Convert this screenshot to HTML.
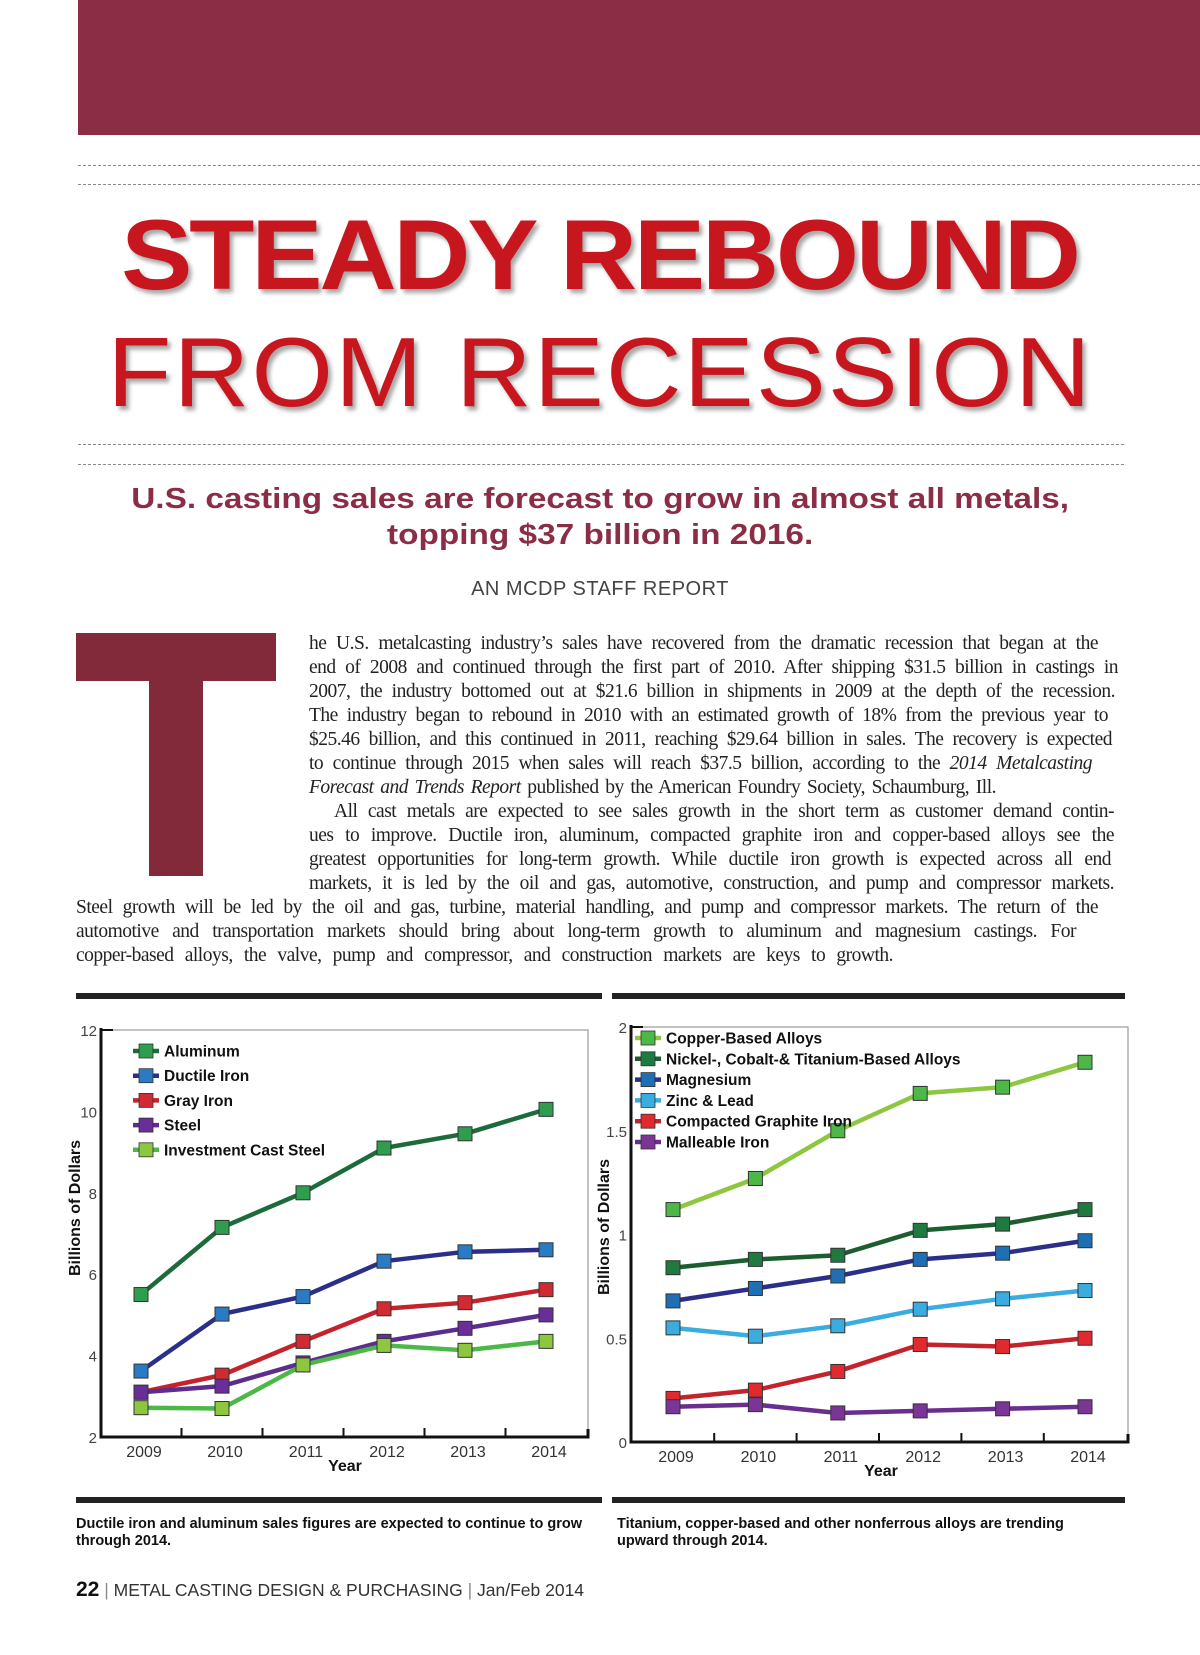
<!DOCTYPE html>
<html><head><meta charset="utf-8">
<style>
html,body{margin:0;padding:0;background:#fff;}
body{width:1200px;height:1655px;position:relative;overflow:hidden;font-family:"Liberation Sans",sans-serif;}
.abs{position:absolute;}
.dash{position:absolute;height:0;border-top:1.5px dashed #888;}
.t1{position:absolute;left:0;width:1200px;text-align:center;top:205px;font-size:99px;font-weight:bold;color:#c8161f;letter-spacing:-3px;line-height:100px;text-shadow:3px 4px 4px rgba(0,0,0,.35);transform:scaleX(1.08);transform-origin:607px 0;}
.t2{position:absolute;left:0;width:1200px;text-align:center;top:322px;font-size:98px;font-weight:normal;color:#c8161f;letter-spacing:2px;line-height:100px;text-shadow:3px 4px 4px rgba(0,0,0,.35);transform:scaleX(1.07);transform-origin:598px 0;}
.sub{position:absolute;left:0;width:1200px;text-align:center;font-size:29px;font-weight:bold;color:#8b2d45;line-height:36px;top:481px;transform:scaleX(1.15);transform-origin:599px 0;}
.by{position:absolute;left:0;width:1200px;text-align:center;top:578px;font-size:20px;color:#444;letter-spacing:0.5px;}
.ln{position:absolute;font-family:"Liberation Serif",serif;font-size:19.5px;color:#222;white-space:nowrap;text-align:justify;text-align-last:justify;letter-spacing:-0.5px;word-spacing:-1px;line-height:24px;}
.rule{position:absolute;height:6px;background:#222;}
.cap{position:absolute;font-size:14.5px;font-weight:bold;color:#111;line-height:17px;}
</style></head>
<body>
<div class="abs" style="left:78px;top:0;width:1122px;height:135px;background:#8b2d45;"></div>
<div class="dash" style="left:78px;top:165px;width:1122px;"></div>
<div class="dash" style="left:78px;top:184px;width:1122px;"></div>
<div class="t1">STEADY REBOUND</div>
<div class="t2">FROM RECESSION</div>
<div class="dash" style="left:78px;top:444px;width:1046px;"></div>
<div class="dash" style="left:78px;top:464px;width:1046px;"></div>
<div class="sub">U.S. casting sales are forecast to grow in almost all metals,<br>topping $37 billion in 2016.</div>
<div class="by">AN MCDP STAFF REPORT</div>

<div>
<div class="abs" style="left:76px;top:633px;width:200px;height:48px;background:#832a3a;"></div>
<div class="abs" style="left:149px;top:633px;width:54px;height:243px;background:#832a3a;"></div>
</div>

<div>
<div class="ln" style="left:309px;top:632px;width:789px;">he U.S. metalcasting industry’s sales have recovered from the dramatic recession that began at the</div>
<div class="ln" style="left:309px;top:656px;width:809px;">end of 2008 and continued through the first part of 2010. After shipping $31.5 billion in castings in</div>
<div class="ln" style="left:309px;top:680px;width:806px;">2007, the industry bottomed out at $21.6 billion in shipments in 2009 at the depth of the recession.</div>
<div class="ln" style="left:309px;top:704px;width:799px;">The industry began to rebound in 2010 with an estimated growth of 18% from the previous year to</div>
<div class="ln" style="left:309px;top:728px;width:803px;">$25.46 billion, and this continued in 2011, reaching $29.64 billion in sales. The recovery is expected</div>
<div class="ln" style="left:309px;top:752px;width:783px;">to continue through 2015 when sales will reach $37.5 billion, according to the <i>2014 Metalcasting</i></div>
<div class="ln" style="left:309px;top:776px;width:687px;"><i>Forecast and Trends Report</i> published by the American Foundry Society, Schaumburg, Ill.</div>
<div class="ln" style="left:334px;top:800px;width:780px;">All cast metals are expected to see sales growth in the short term as customer demand contin-</div>
<div class="ln" style="left:309px;top:824px;width:805px;">ues to improve. Ductile iron, aluminum, compacted graphite iron and copper-based alloys see the</div>
<div class="ln" style="left:309px;top:848px;width:802px;">greatest opportunities for long-term growth. While ductile iron growth is expected across all end</div>
<div class="ln" style="left:309px;top:872px;width:805px;">markets, it is led by the oil and gas, automotive, construction, and pump and compressor markets.</div>
<div class="ln" style="left:76px;top:896px;width:1022px;">Steel growth will be led by the oil and gas, turbine, material handling, and pump and compressor markets. The return of the</div>
<div class="ln" style="left:76px;top:920px;width:1000px;">automotive and transportation markets should bring about long-term growth to aluminum and magnesium castings. For</div>
<div class="ln" style="left:76px;top:944px;width:817px;">copper-based alloys, the valve, pump and compressor, and construction markets are keys to growth.</div>
</div>

<div class="rule" style="left:76px;top:993px;width:526px;"></div>
<div class="rule" style="left:612px;top:993px;width:513px;"></div>
<div class="rule" style="left:76px;top:1497px;width:526px;"></div>
<div class="rule" style="left:612px;top:1497px;width:513px;"></div>

<svg id="chart" class="abs" style="left:0;top:0;" width="1200" height="1655"></svg>

<div class="cap" style="left:76px;top:1516px;width:520px;">Ductile iron and aluminum sales figures are expected to continue to grow through 2014.</div>
<div class="cap" style="left:617px;top:1516px;width:490px;">Titanium, copper-based and other nonferrous alloys are trending upward through 2014.</div>
<div class="abs" style="left:76px;top:1578px;font-size:17.5px;color:#333;white-space:nowrap;"><b style="font-size:21px;color:#111;">22</b> <span style="color:#888">|</span> METAL CASTING DESIGN &amp; PURCHASING <span style="color:#888">|</span> Jan/Feb 2014</div>

<script>
const years = ["2009","2010","2011","2012","2013","2014"];
const leftNames = ["Aluminum","Ductile Iron","Gray Iron","Steel","Investment Cast Steel"];
const aluminum = [5.5, 7.15, 8.0, 9.1, 9.45, 10.05];
const ductileIron = [3.62, 5.02, 5.45, 6.32, 6.55, 6.6];
const grayIron = [3.1, 3.52, 4.35, 5.15, 5.3, 5.62];
const steel = [3.1, 3.25, 3.82, 4.35, 4.67, 5.0];
const investmentCastSteel = [2.72, 2.7, 3.77, 4.25, 4.13, 4.35];
const leftTicks = [2, 4, 6, 8, 10, 12];
const rightNames = ["Copper-Based Alloys","Nickel-, Cobalt-& Titanium-Based Alloys","Magnesium","Zinc & Lead","Compacted Graphite Iron","Malleable Iron"];
const copper = [1.12, 1.27, 1.5, 1.68, 1.71, 1.83];
const nickel = [0.84, 0.88, 0.9, 1.02, 1.05, 1.12];
const magnesium = [0.68, 0.74, 0.8, 0.88, 0.91, 0.97];
const zincLead = [0.55, 0.51, 0.56, 0.64, 0.69, 0.73];
const cgi = [0.21, 0.25, 0.34, 0.47, 0.46, 0.5];
const malleable = [0.17, 0.18, 0.14, 0.15, 0.16, 0.17];
const rightTicks = [0, 0.5, 1, 1.5, 2];
const rightTickLabels = ["0","0.5","1","1.5","2"];

const NS = "http://www.w3.org/2000/svg";
const svg = document.getElementById('chart');
function mk(tag, attrs, parent){
  const e = document.createElementNS(NS, tag);
  for (const k in attrs) e.setAttribute(k, attrs[k]);
  (parent||svg).appendChild(e);
  return e;
}

function drawChart(cfg){
  const g = mk('g', {});
  
  
  const xs = i => cfg.x0 + i * (cfg.x1 - cfg.x0) / (years.length - 1);
  const ys = v => cfg.yBot - (v - cfg.vMin) / (cfg.vMax - cfg.vMin) * (cfg.yBot - cfg.yTop);
  const frame = mk('rect', {x:cfg.L, y:cfg.yTop, width:cfg.R-cfg.L, height:cfg.yBot-cfg.yTop, fill:'none', stroke:'#999', 'stroke-width':1.2}, g);
  
  
  const ax = mk('path', {d:`M${cfg.L} ${cfg.yTop-2} L${cfg.L} ${cfg.yBot} L${cfg.R} ${cfg.yBot} L${cfg.R} ${cfg.yBot-8}`, fill:'none', stroke:'#111', 'stroke-width':3}, g);
  
  
  mk('line', {x1:cfg.L, y1:cfg.yTop, x2:cfg.L+12, y2:cfg.yTop, stroke:'#111','stroke-width':2}, g);
  for (let i = 0; i < years.length - 1; i++) {
    const tx = (xs(i) + xs(i+1)) / 2;
    const t = mk('line', {x1:tx, y1:cfg.yBot, x2:tx, y2:cfg.yBot-9, stroke:'#111', 'stroke-width':2}, g);
    
    
  }
  years.forEach((yr, i) => {
    const t = mk('text', {x:xs(i)+3, y:cfg.yBot+20, 'text-anchor':'middle', 'font-size':16, fill:'#333', 'font-family':'Liberation Sans, sans-serif'}, g);
    t.textContent = yr;
    
    
  });
  cfg.ticks.forEach((v, i) => {
    const t = mk('text', {x:cfg.L-4, y:ys(v)+6, 'text-anchor':'end', 'font-size':15, fill:'#444', 'font-family':'Liberation Sans, sans-serif'}, g);
    t.textContent = cfg.tickLabels[i];
    
    
  });
  const xt = mk('text', {x:cfg.xLabelX, y:cfg.yBot+34, 'text-anchor':'middle', 'font-size':16, 'font-weight':'bold', fill:'#111', 'font-family':'Liberation Sans, sans-serif'}, g);
  xt.textContent = 'Year';
  
  
  const yt = mk('text', {x:0, y:0, transform:`translate(${cfg.yLabelX},${cfg.yLabelY}) rotate(-90)`, 'text-anchor':'middle', 'font-size':16, 'font-weight':'bold', fill:'#111', 'font-family':'Liberation Sans, sans-serif'}, g);
  yt.textContent = 'Billions of Dollars';
  
  

  cfg.series.forEach((s, si) => {
    const sg = mk('g', {}, g);
    
    
    const pts = s.data.map((v, i) => xs(i) + ',' + ys(v)).join(' ');
    const pl = mk('polyline', {points:pts, fill:'none', stroke:s.line, 'stroke-width':4.5, 'stroke-linejoin':'round'}, sg);
    
    
    s.data.forEach((v, i) => {
      const r = mk('rect', {x:xs(i)-7, y:ys(v)-7, width:14, height:14, fill:s.mark, stroke:'#333', 'stroke-width':1}, sg);
      
      
    });
    const ly = cfg.legY + si * cfg.legDy;
    const lg = mk('g', {}, g);
    
    
    mk('line', {x1:cfg.legX-13, y1:ly, x2:cfg.legX+13, y2:ly, stroke:s.line, 'stroke-width':4.5}, lg);
    mk('rect', {x:cfg.legX-7, y:ly-7, width:14, height:14, fill:s.mark, stroke:'#333','stroke-width':0.8}, lg);
    const lt = mk('text', {x:cfg.legX+18, y:ly+5.5, 'font-size':15.5, 'font-weight':'bold', fill:'#111', 'font-family':'Liberation Sans, sans-serif'}, lg);
    lt.textContent = s.label;
  });
}

drawChart({
  name:'left-chart', L:101, R:588, yTop:1030, yBot:1437, x0:141, x1:546, vMin:2, vMax:12,
  ticks:leftTicks, tickLabels:leftTicks.map(String), xLabelX:345, yLabelX:80, yLabelY:1208,
  legX:146, legY:1051, legDy:24.7,
  series:[
    {key:'aluminum', label:leftNames[0], data:aluminum, line:'#1d6b3a', mark:'#2e9e4e'},
    {key:'ductile-iron', label:leftNames[1], data:ductileIron, line:'#2b2f8a', mark:'#2a7bc4'},
    {key:'gray-iron', label:leftNames[2], data:grayIron, line:'#c4232b', mark:'#d02b33'},
    {key:'steel', label:leftNames[3], data:steel, line:'#5b2d8e', mark:'#6a2e9a'},
    {key:'investment-cast-steel', label:leftNames[4], data:investmentCastSteel, line:'#4cb848', mark:'#8dc63f'}
  ]
});
drawChart({
  name:'right-chart', L:631, R:1128, yTop:1027, yBot:1442, x0:673, x1:1085, vMin:0, vMax:2,
  ticks:rightTicks, tickLabels:rightTickLabels, xLabelX:881, yLabelX:609, yLabelY:1227,
  legX:648, legY:1038, legDy:20.8,
  series:[
    {key:'copper', label:rightNames[0], data:copper, line:'#8dc63f', mark:'#4cb848'},
    {key:'nickel', label:rightNames[1], data:nickel, line:'#1d5e30', mark:'#1e7a3f'},
    {key:'magnesium', label:rightNames[2], data:magnesium, line:'#2b2f8a', mark:'#1f6fb5'},
    {key:'zinc-lead', label:rightNames[3], data:zincLead, line:'#3aace0', mark:'#3aace0'},
    {key:'cgi', label:rightNames[4], data:cgi, line:'#c4232b', mark:'#e02a2f'},
    {key:'malleable', label:rightNames[5], data:malleable, line:'#6a2e8e', mark:'#7a3596'}
  ]
});
</script>
</body></html>
